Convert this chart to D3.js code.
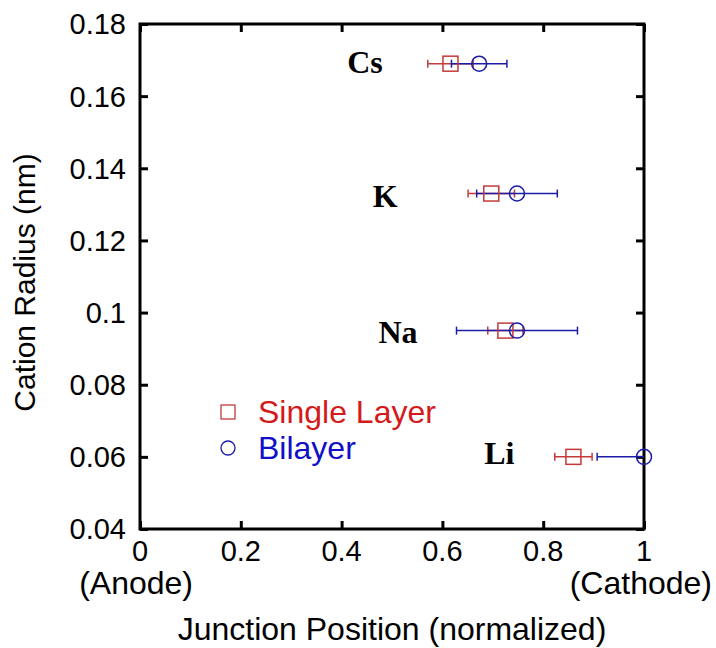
<!DOCTYPE html>
<html>
<head>
<meta charset="utf-8">
<script src="https://cdn.jsdelivr.net/npm/d3@7"></script>
<style>
  body { margin: 0; background: #fff; }
  svg { display: block; }
  .tick-label { font-family: "Liberation Sans", Arial, sans-serif; font-size: 29px; fill: #000; }
  .axis-title { font-family: "Liberation Sans", Arial, sans-serif; font-size: 32px; fill: #000; }
  .ion { font-family: "Liberation Serif", "Times New Roman", serif; font-size: 32px; font-weight: bold; fill: #000; }
  .legend-text { font-family: "Liberation Sans", Arial, sans-serif; font-size: 32px; }
</style>
</head>
<body>
<div id="canvas"></div>
<script>
// Datos
const ions = ["Cs", "K", "Na", "Li"];
const radius = [0.169, 0.133, 0.095, 0.06];
const singleLayer = [0.616, 0.697, 0.725, 0.86];
const singleErr = [0.045, 0.046, 0.035, 0.037];
const bilayer = [0.673, 0.748, 0.748, 1.0];
const bilayerErr = [0.055, 0.08, 0.12, 0.093];

const xTicks = [0, 0.2, 0.4, 0.6, 0.8, 1];
const yTicks = [0.04, 0.06, 0.08, 0.1, 0.12, 0.14, 0.16, 0.18];

// posicion de las etiquetas de cada ion (x en datos, desplazamiento vertical en px)
const labelX = [0.411, 0.462, 0.473, 0.683];
const labelDy = [9, 13, 12, 7];

const width = 716;
const height = 648;
const margin = { top: 24, left: 140, right: 72, bottom: 119 };
const iwidth = width - margin.left - margin.right;
const iheight = height - margin.top - margin.bottom;

const red = "#c43a3a";
const blue = "#1c1ca8";

const svg = d3.select("#canvas").append("svg")
  .attr("width", width)
  .attr("height", height);

svg.append("rect").attr("width", width).attr("height", height).attr("fill", "#fff");

const g = svg.append("g")
  .attr("transform", `translate(${margin.left},${margin.top})`);

const x = d3.scaleLinear().domain([0, 1]).range([0, iwidth]);
const y = d3.scaleLinear().domain([0.04, 0.18]).range([iheight, 0]);

// Ejes con ticks hacia adentro
const tickLen = 8;
g.append("g").attr("transform", `translate(0,${iheight})`)
  .call(d3.axisBottom(x).tickValues(xTicks).tickSize(-tickLen).tickFormat(""));
g.append("g")
  .call(d3.axisTop(x).tickValues(xTicks).tickSize(-tickLen).tickFormat(""));
g.append("g")
  .call(d3.axisLeft(y).tickValues(yTicks).tickSize(-tickLen).tickFormat(""));
g.append("g").attr("transform", `translate(${iwidth},0)`)
  .call(d3.axisRight(y).tickValues(yTicks).tickSize(-tickLen).tickFormat(""));

g.selectAll(".domain").remove();
g.selectAll(".tick line").attr("stroke", "#000").attr("stroke-width", 3);

g.append("rect")
  .attr("width", iwidth)
  .attr("height", iheight)
  .attr("fill", "none")
  .attr("stroke", "#000")
  .attr("stroke-width", 3);

// Etiquetas de los ejes
g.selectAll(".xlab").data(xTicks).enter().append("text")
  .attr("class", "tick-label")
  .attr("x", d => x(d))
  .attr("y", iheight + 32)
  .attr("text-anchor", "middle")
  .text(d => d3.format("~g")(d));

g.selectAll(".ylab").data(yTicks).enter().append("text")
  .attr("class", "tick-label")
  .attr("x", -14)
  .attr("y", d => y(d))
  .attr("dy", "0.36em")
  .attr("text-anchor", "end")
  .text(d => d3.format("~g")(d));

g.append("text").attr("class", "axis-title")
  .attr("x", x(0) + 53).attr("y", iheight + 65)
  .attr("text-anchor", "end").text("(Anode)");
g.append("text").attr("class", "axis-title")
  .attr("x", x(1) + 68).attr("y", iheight + 65)
  .attr("text-anchor", "end").text("(Cathode)");
g.append("text").attr("class", "axis-title")
  .attr("x", iwidth / 2).attr("y", iheight + 111)
  .attr("text-anchor", "middle").text("Junction Position (normalized)");
g.append("text").attr("class", "axis-title")
  .style("font-size", "30px")
  .attr("transform", `translate(${-105},${iheight / 2 + 6}) rotate(-90)`)
  .attr("text-anchor", "middle").text("Cation Radius (nm)");

// Barras de error + marcadores
const capH = 4;
const drawSeries = (vals, errs, color) => {
  const s = g.append("g");
  vals.forEach((v, i) => {
    const lo = Math.max(0, v - errs[i]);
    const hi = Math.min(1, v + errs[i]);
    const yy = y(radius[i]);
    s.append("line")
      .attr("x1", x(lo)).attr("x2", x(hi))
      .attr("y1", yy).attr("y2", yy)
      .attr("stroke", color).attr("stroke-width", 1.5);
    [[lo, v - errs[i]], [hi, v + errs[i]]].forEach(([c, raw]) => {
      if (c !== raw) return;
      s.append("line")
        .attr("x1", x(c)).attr("x2", x(c))
        .attr("y1", yy - capH).attr("y2", yy + capH)
        .attr("stroke", color).attr("stroke-width", 1.5);
    });
  });
  return s;
};

drawSeries(singleLayer, singleErr, red);
drawSeries(bilayer, bilayerErr, blue);

g.selectAll(".sq").data(singleLayer).enter().append("rect")
  .attr("x", d => x(d) - 7.5)
  .attr("y", (d, i) => y(radius[i]) - 7.5)
  .attr("width", 15).attr("height", 15)
  .attr("fill", "none").attr("stroke", red).attr("stroke-width", 1.5);

g.selectAll(".ci").data(bilayer).enter().append("circle")
  .attr("cx", d => x(d))
  .attr("cy", (d, i) => y(radius[i]))
  .attr("r", 7.5)
  .attr("fill", "none").attr("stroke", blue).attr("stroke-width", 1.5);

// Nombres de los iones
g.selectAll(".ion").data(ions).enter().append("text")
  .attr("class", "ion")
  .attr("x", (d, i) => x(labelX[i]))
  .attr("y", (d, i) => y(radius[i]) + labelDy[i])
  .text(d => d);

// Leyenda
const legend = [
  { name: "Single Layer", color: "#d41a1a", stroke: red, shape: "square" },
  { name: "Bilayer", color: "#1010c8", stroke: blue, shape: "circle" }
];
const lg = g.append("g").attr("transform", `translate(${88},${388})`);
legend.forEach((d, i) => {
  const row = lg.append("g").attr("transform", `translate(0,${i * 36})`);
  if (d.shape === "square") {
    row.append("rect").attr("x", -7).attr("y", -7).attr("width", 14).attr("height", 14)
      .attr("fill", "none").attr("stroke", d.stroke).attr("stroke-width", 1.3);
  } else {
    row.append("circle").attr("r", 7)
      .attr("fill", "none").attr("stroke", d.stroke).attr("stroke-width", 1.3);
  }
  row.append("text").attr("class", "legend-text")
    .attr("x", 30).attr("y", 11)
    .attr("fill", d.color)
    .text(d.name);
});
</script>
</body>
</html>
